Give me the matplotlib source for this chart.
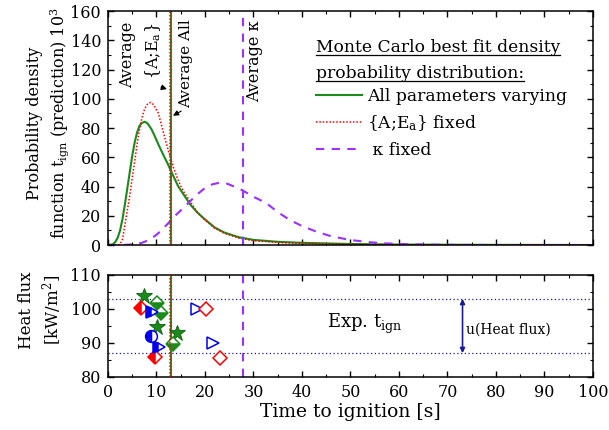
import numpy as np
import matplotlib
matplotlib.use("Agg")
import matplotlib.pyplot as plt
from matplotlib.ticker import MultipleLocator
from matplotlib.lines import Line2D

plt.rcParams["font.family"] = ["DejaVu Serif"]
plt.rcParams["mathtext.fontset"] = "dejavuserif"
plt.rcParams["font.size"] = 12

# best fit density curves (x = time to ignition [s], y = density x 10^3)
t_all = [0, 1, 1.5, 2, 2.5, 3, 3.5, 4, 4.5, 5, 5.5, 6, 6.5, 7, 7.6, 8.2, 9, 9.7,
         10.5, 11.5, 12.4, 13.5, 14.5, 15.9, 17, 18.5, 20, 22, 24, 27, 30, 35,
         40, 50, 60, 80, 100]
pdf_all = [0, 0.5, 2, 5, 10, 18, 28, 39, 50, 61, 70, 77, 81.5, 83.5, 84.3, 83,
           79, 74, 68, 61, 55, 47, 40, 33, 27.5, 22, 17.5, 12, 8.5, 5.3, 3.5,
           2.2, 1.5, 0.7, 0.3, 0.1, 0]

t_ae = [0, 2, 2.5, 3, 3.5, 4, 4.5, 5, 5.5, 6, 6.5, 7, 7.6, 8.2, 8.8, 9.4, 10.4,
        11.5, 12.4, 13.5, 14.5, 15.5, 17.2, 18.5, 20, 22, 24, 27, 30, 35, 40,
        50, 60, 80, 100]
pdf_ae = [0, 0, 0.5, 4, 14, 24, 34, 46, 57, 69, 79, 87, 93.5, 96.5, 97.5, 96,
          90, 76, 65, 53, 44, 37, 28.5, 22, 17, 11.5, 8, 4.7, 3, 1.7, 1.1, 0.4,
          0.15, 0, 0]

t_k = [0, 3, 5.6, 7, 8.5, 10, 11, 12.4, 14, 16.2, 18, 20, 21.5, 23, 24.5, 26,
       27.6, 30, 32.7, 35, 37.5, 40, 43, 46, 50, 54, 57.4, 62, 70, 80, 100]
pdf_k = [0, 0, 0.5, 1.5, 3.5, 7, 10, 14.8, 20.5, 27.4, 33.5, 39, 41.5, 42.6, 42,
         40, 37.6, 33, 28.5, 22.5, 17.1, 13, 9.1, 6, 3.4, 1.9, 1.1, 0.5, 0.1, 0, 0]

# averages of each distribution [s]
avg_all = 12.9
avg_ae = 12.7
avg_k = 27.8

# experimental ignition times [s] and heat flux [kW/m2]
star_t = [7.4, 10.2, 14.3]
star_q = [103.8, 94.8, 93.0]
dia_half_t = [6.9, 9.7]
dia_half_q = [100.4, 85.8]
gdia_t = [10.2, 10.9, 13.5]
gdia_q = [101.9, 98.7, 89.7]
tri_half_t = [9.0, 10.6]
tri_half_q = [99.0, 88.9]
circ_t = [8.8]
circ_q = [92.1]
tri_open_t = [18.3, 21.6]
tri_open_q = [99.9, 89.9]
dia_open_t = [20.2, 23.1]
dia_open_q = [99.9, 85.7]

q_low = 87
q_high = 103

c_green = "#1a8a1a"
c_purple = "#9b30ff"
c_blue = "#0000ee"
c_navy = "#1a1a99"
dash = (0, (4, 3.5))
dots = (0, (1, 1.2))

fig = plt.figure(figsize=(6.09, 4.30), dpi=100)
ax1 = fig.add_axes([0.1773, 0.4302, 0.7964, 0.5442])
ax2 = fig.add_axes([0.1773, 0.1233, 0.7964, 0.2372])

# top panel: density curves
ax1.plot(t_all, pdf_all, color=c_green, lw=1.5, label="All parameters varying")
ax1.plot(t_ae, pdf_ae, color="red", lw=1.1, ls=dots,
         label="{A;E$_\\mathrm{a}$} fixed")
ax1.plot(t_k, pdf_k, color=c_purple, lw=1.5, ls=dash, label=" κ fixed")

for ax in (ax1, ax2):
    ax.axvline(avg_ae, color="red", lw=1.1, ls=dots, zorder=3)
    ax.axvline(avg_all, color=c_green, lw=1.4, zorder=2)
    ax.axvline(avg_k, color=c_purple, lw=1.5, ls=dash)
    ax.set_xlim(0, 100)
    ax.xaxis.set_major_locator(MultipleLocator(10))
    ax.xaxis.set_minor_locator(MultipleLocator(5))
    ax.tick_params(which="both", direction="in", top=True, right=True)
    ax.tick_params(which="major", length=4.5, width=1, pad=5, labelsize=11.5)
    ax.tick_params(which="minor", length=2.5, width=0.8)
    for sp in ax.spines.values():
        sp.set_linewidth(1.1)

ax1.set_ylim(0, 160)
ax1.yaxis.set_major_locator(MultipleLocator(20))
ax1.yaxis.set_minor_locator(MultipleLocator(10))
ax1.tick_params(labelbottom=False)

ax1.set_ylabel("Probability density\nfunction $\\mathrm{t_{ign}}$ (prediction) 10$^3$",
               fontsize=11.5, linespacing=1.3)
ax1.yaxis.set_label_coords(-0.077, 0.52)

# averages annotations
ax1.text(4.1, 130, "Average", rotation=90, ha="center", va="center", fontsize=11.5)
ax1.text(9.4, 133, "{A;E$_\\mathrm{a}$}", rotation=90, ha="center", va="center",
         fontsize=11.5)
ax1.annotate("", xy=(avg_ae, 106), xytext=(10.4, 108.5),
             arrowprops=dict(arrowstyle="-|>", color="black", lw=0.8,
                             mutation_scale=8))
ax1.text(16.1, 94, "Average All", rotation=90, ha="center", va="bottom",
         fontsize=11, clip_on=False)
ax1.annotate("", xy=(avg_all, 87.5), xytext=(15.6, 92.5),
             arrowprops=dict(arrowstyle="-|>", color="black", lw=0.8,
                             mutation_scale=8))
ax1.text(30.2, 126, "Average κ", rotation=90, ha="center", va="center",
         fontsize=11.5)

# legend title and legend
title1 = ax1.text(0.429, 0.842, "Monte Carlo best fit density", transform=ax1.transAxes,
                  ha="left", va="center", fontsize=12.3)
title2 = ax1.text(0.429, 0.735, "probability distribution:", transform=ax1.transAxes,
                  ha="left", va="center", fontsize=12.3)
leg = ax1.legend(loc="upper left", bbox_to_anchor=(0.429, 0.672), frameon=False,
                 fontsize=12.3, handlelength=2.7, handletextpad=0.3,
                 labelspacing=0.5, borderpad=0, borderaxespad=0)

# bottom panel: experimental points
ax2.axhline(q_high, color=c_navy, lw=0.9, ls=(0, (1, 2)))
ax2.axhline(q_low, color=c_navy, lw=0.9, ls=(0, (1, 2)))
ax2.plot(star_t, star_q, ls="none", marker="*", ms=12, color=c_green,
         mec="#0d5e0d", mew=0.6)
ax2.plot(dia_half_t, dia_half_q, ls="none", marker="D", ms=7.5, color="red",
         fillstyle="left", mfc="red", mfcalt="white", mew=1.1)
ax2.plot(gdia_t, gdia_q, ls="none", marker="D", ms=7.5, color=c_green,
         fillstyle="bottom", mfc=c_green, mfcalt="white", mew=1.1)
ax2.plot(tri_half_t, tri_half_q, ls="none", marker=">", ms=9, color=c_blue,
         fillstyle="left", mfc=c_blue, mfcalt="white", mew=1.1)
ax2.plot(circ_t, circ_q, ls="none", marker="o", ms=8.5, color=c_blue,
         fillstyle="left", mfc=c_blue, mfcalt="white", mew=1.1)
ax2.plot(tri_open_t, tri_open_q, ls="none", marker=">", ms=9, color=c_blue,
         mfc="white", mew=1.1)
ax2.plot(dia_open_t, dia_open_q, ls="none", marker="D", ms=7.5, color="red",
         mfc="white", mew=1.1)

ax2.annotate("", xy=(73.1, q_high), xytext=(73.1, q_low),
             arrowprops=dict(arrowstyle="<|-|>", color=c_navy, lw=1.2,
                             mutation_scale=7, shrinkA=0, shrinkB=0))
ax2.text(73.9, 93.8, "u(Heat flux)", ha="left", va="center", fontsize=10)
ax2.text(53, 95.5, "Exp. $\\mathrm{t_{ign}}$", ha="center", va="center", fontsize=13)

ax2.set_ylim(80, 110)
ax2.yaxis.set_major_locator(MultipleLocator(10))
ax2.yaxis.set_minor_locator(MultipleLocator(5))
ax2.set_ylabel("Heat flux\n[kW/m$^2$]", fontsize=12, linespacing=1.3)
ax2.yaxis.set_label_coords(-0.09, 0.657)
ax2.set_xlabel("Time to ignition [s]", fontsize=13.5)
ax2.xaxis.set_label_coords(0.5, -0.255)

# underline the legend title
fig.canvas.draw()
renderer = fig.canvas.get_renderer()
for t in (title1, title2):
    bb = t.get_window_extent(renderer)
    yb = bb.y0 + 1
    fig.add_artist(Line2D([bb.x0, bb.x1], [yb, yb], transform=None,
                          color="black", lw=0.9))

fig.savefig("out.png", dpi=100)
